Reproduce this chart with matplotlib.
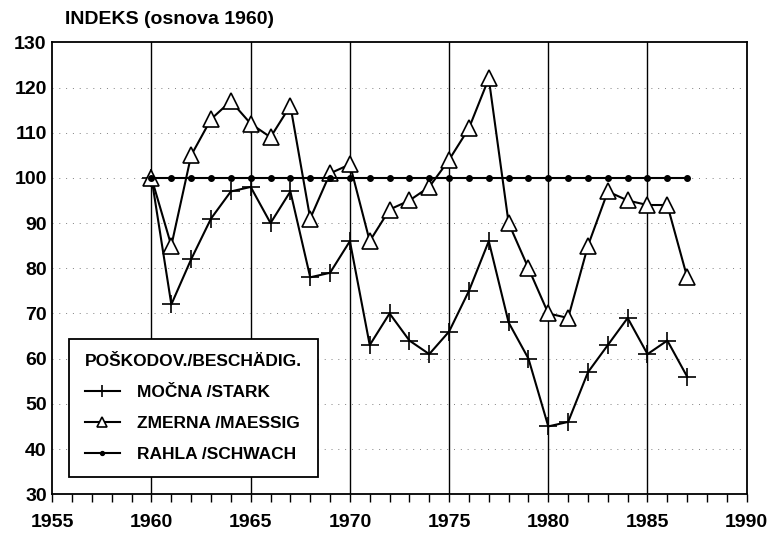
import matplotlib.pyplot as plt
from matplotlib.ticker import MultipleLocator

plt.rcParams['font.family'] = ['Liberation Sans', 'DejaVu Sans']
plt.rcParams['font.weight'] = 'bold'

years = list(range(1960, 1988))
mocna = [100, 72, 82, 91, 97, 98, 90, 97, 78, 79, 86, 63, 70, 64, 61, 66,
         75, 86, 68, 60, 45, 46, 57, 63, 69, 61, 64, 56]
zmerna = [100, 85, 105, 113, 117, 112, 109, 116, 91, 101, 103, 86, 93, 95, 98, 104,
          111, 122, 90, 80, 70, 69, 85, 97, 95, 94, 94, 78]
rahla = [100] * len(years)

fig = plt.figure(figsize=(7.69, 5.36), dpi=100)
ax = fig.add_axes([0.068, 0.078, 0.903, 0.843])

ax.plot(years, mocna, color="black", linewidth=1.5, marker="+", markersize=13,
        markeredgewidth=1.2, label="MOČNA /STARK")
ax.plot(years, zmerna, color="black", linewidth=1.5, marker="^", markersize=11,
        markerfacecolor="white", markeredgewidth=1.2, label="ZMERNA /MAESSIG")
ax.plot(years, rahla, color="black", linewidth=1.5, marker="o", markersize=4,
        label="RAHLA /SCHWACH")

ax.set_xlim(1955, 1990)
ax.set_ylim(30, 130)
ax.xaxis.set_major_locator(MultipleLocator(5))
ax.xaxis.set_minor_locator(MultipleLocator(1))
ax.yaxis.set_major_locator(MultipleLocator(10))
ax.tick_params(axis="x", which="both", direction="out", length=6, width=1,
               labelsize=14, pad=8)
ax.tick_params(axis="y", which="major", direction="out", length=0,
               labelsize=14, pad=4)

# vertical solid grid, horizontal dotted grid
for x in range(1960, 1990, 5):
    ax.axvline(x, color="black", linewidth=1, zorder=0)
for y in range(40, 130, 10):
    ax.axhline(y, color="gray", linewidth=0.7, linestyle=(0, (1, 6)), zorder=0)

for s in ax.spines.values():
    s.set_linewidth(1.3)

fig.text(0.085, 0.955, "INDEKS (osnova 1960)", fontsize=14, fontweight="bold")

leg = ax.legend(loc="lower left", bbox_to_anchor=(0.012, 0.018),
                title="POŠKODOV./BESCHÄDIG.", fontsize=12.5, title_fontsize=12.5,
                frameon=True, fancybox=False, edgecolor="black",
                framealpha=1, handlelength=2.0, labelspacing=0.9,
                borderpad=0.9, markerscale=0.7, handletextpad=1.0)
leg.get_frame().set_linewidth(1.3)
leg._legend_box.align = "left"
for t in leg.get_texts():
    t.set_fontweight("bold")
leg.get_title().set_fontweight("bold")

plt.savefig("out.png", dpi=100)
